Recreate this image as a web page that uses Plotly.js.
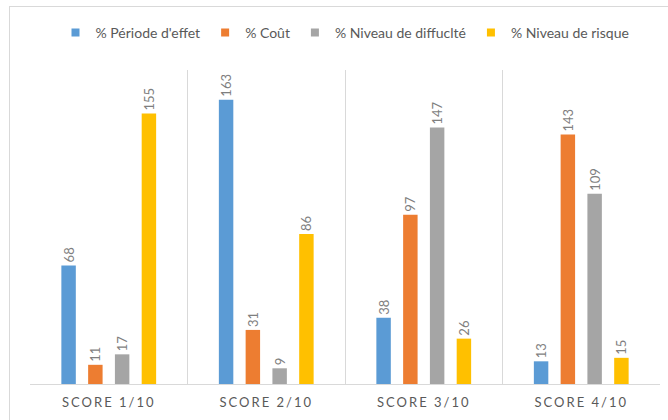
<!DOCTYPE html>
<html>
<head>
<meta charset="utf-8">
<script src="https://cdn.plot.ly/plotly-3.0.1.min.js"></script>
<style>
  html, body { margin: 0; padding: 0; background: #fff; }
  #wrap { position: relative; width: 668px; height: 420px; overflow: hidden; }
  #chart { position: absolute; left: 0; top: 0; width: 668px; height: 420px; }
  #frame { position: absolute; left: 9px; top: 6px; width: 700px; height: 500px;
           border-left: 1px solid #d9d9d9; border-top: 1px solid #d9d9d9; pointer-events: none; }
  .xtick text { letter-spacing: 2px; }
</style>
</head>
<body>
<div id="wrap">
  <div id="chart"></div>
  <div id="frame"></div>
</div>
<script>
const categories = ['SCORE 1/10', 'SCORE 2/10', 'SCORE 3/10', 'SCORE 4/10'];
const seriesNames = ["% Période d'effet", '% Coût', '% Niveau de diffuclté', '% Niveau de risque'];
const periodeEffet = [68, 163, 38, 13];
const cout = [11, 31, 97, 143];
const niveauDifficulte = [17, 9, 147, 109];
const niveauRisque = [155, 86, 26, 15];
const seriesValues = [periodeEffet, cout, niveauDifficulte, niveauRisque];
const colors = ['#5B9BD5', '#ED7D31', '#A5A5A5', '#FFC000'];

const traces = [];
seriesValues.forEach((vals, i) => {
  traces.push({
    type: 'bar',
    x: categories,
    y: vals,
    name: seriesNames[i],
    marker: { color: colors[i] },
    text: vals.map(String),
    textposition: 'outside',
    textangle: -90,
    constraintext: 'none',
    textfont: { family: 'Lato, "Open Sans", sans-serif', size: 13, color: '#7f7f7f' },
    cliponaxis: false,
    showlegend: false,
    hoverinfo: 'skip'
  });
});
// legend entries with small square symbols
seriesValues.forEach((vals, i) => {
  traces.push({
    type: 'scatter',
    mode: 'markers',
    x: [null],
    y: [null],
    name: seriesNames[i],
    marker: { color: colors[i], symbol: 'square', size: 8 },
    showlegend: true,
    hoverinfo: 'skip'
  });
});

const layout = {
  width: 668,
  height: 420,
  margin: { l: 30, r: 8, t: 70, b: 36, pad: 0 },
  paper_bgcolor: '#ffffff',
  plot_bgcolor: '#ffffff',
  barmode: 'group',
  bargap: 0.32,
  bargroupgap: 0.46,
  font: { family: 'Lato, "Open Sans", sans-serif', color: '#595959' },
  showlegend: true,
  legend: {
    orientation: 'h',
    x: 0.5, xanchor: 'center',
    y: 1.118, yanchor: 'middle',
    font: { size: 14, color: '#595959' },
    itemwidth: 30,
    traceorder: 'normal'
  },
  xaxis: {
    type: 'category',
    tickson: 'boundaries',
    showgrid: true,
    gridcolor: '#d9d9d9',
    gridwidth: 1,
    showline: true,
    linecolor: '#d9d9d9',
    linewidth: 1,
    ticks: '',
    ticklabelstandoff: 6,
    tickfont: { size: 13, color: '#595959' },
    fixedrange: true
  },
  yaxis: {
    range: [0, 180],
    visible: false,
    showgrid: false,
    zeroline: false,
    fixedrange: true
  },
  annotations: [
    { xref: 'paper', yref: 'paper', x: (117 - 30) / 630, y: 1 + (70 - (-18)) / 314, xanchor: 'left', yanchor: 'middle',
      text: 'ng', showarrow: false, font: { family: '"Liberation Serif", serif', size: 30, color: '#000' } },
    { xref: 'paper', yref: 'paper', x: (217 - 30) / 630, y: 1 + (70 - (-18)) / 314, xanchor: 'left', yanchor: 'middle',
      text: 'p', showarrow: false, font: { family: '"Liberation Serif", serif', size: 30, color: '#000' } }
  ]
};

Plotly.newPlot('chart', traces, layout, { displayModeBar: false, staticPlot: true });
</script>
</body>
</html>
